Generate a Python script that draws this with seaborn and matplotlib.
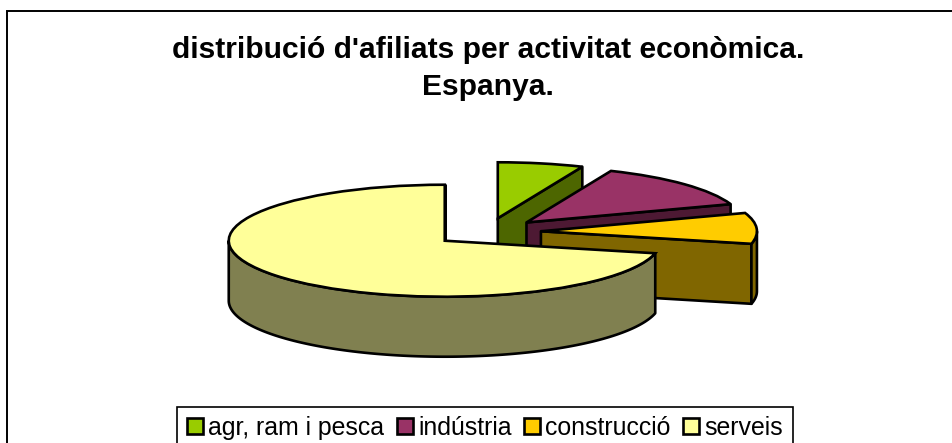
import numpy as np
import matplotlib
matplotlib.use('Agg')
import matplotlib.pyplot as plt
import seaborn as sns

# dades llegides del grafic
categories = ['agr, ram i pesca', 'indústria', 'construcció', 'serveis']
values = [6.4, 13.3, 8.9, 71.4]
top_colors = ['#99CC00', '#993366', '#FFCC00', '#FFFF99']
side_colors = ['#4D6600', '#4D1933', '#806600', '#808050']
title_text = "distribució d'afiliats per activitat econòmica.\nEspanya."

sns.set_theme(style='white')
plt.rcParams['font.family'] = ['Liberation Sans', 'DejaVu Sans']

W, H = 952, 443
cx, cy = 487, 232    # centre del pastis, en pixels
rx, ry = 216, 56     # semieixos
depth = 60 / ry      # alcada de la paret

fig = plt.figure(figsize=(W / 100, H / 100), dpi=100)
ax = fig.add_axes([0, 0, 1, 1])

# pastis pla, despres l'aixafem canviant l'aspecte
wedges, _ = ax.pie(values, colors=sns.color_palette(top_colors), explode=[0.25] * 4,
                   startangle=90, counterclock=False,
                   wedgeprops={'edgecolor': 'black', 'linewidth': 1.9})
ax.set_aspect('auto')
ax.set_xlim(-cx / rx, (W - cx) / rx)
ax.set_ylim((cy - H) / ry, cy / ry)
ax.axis('off')

# parets laterals de cada porcio
for i, w in enumerate(wedges):
    z = 2 + i * 2
    w.set_zorder(z + 1)
    x0, y0 = w.center
    line = {'facecolor': side_colors[i], 'edgecolor': 'black', 'linewidth': 1.9,
            'joinstyle': 'round', 'zorder': z}
    # parets radials visibles
    if np.sin(np.radians(w.theta1 - 90)) < 0:
        px = x0 + np.cos(np.radians(w.theta1))
        py = y0 + np.sin(np.radians(w.theta1))
        ax.fill([x0, px, px, x0], [y0, py, py - depth, y0 - depth], **line)
    if np.sin(np.radians(w.theta2 + 90)) < 0:
        px = x0 + np.cos(np.radians(w.theta2))
        py = y0 + np.sin(np.radians(w.theta2))
        ax.fill([x0, px, px, x0], [y0, py, py - depth, y0 - depth], **line)
    # paret corba, nomes la part de davant
    t = np.radians(np.linspace(w.theta1, w.theta2, 300))
    t = t[np.sin(t) <= 0]
    if len(t) > 1:
        xs = x0 + np.cos(t)
        ys = y0 + np.sin(t)
        ax.fill(np.r_[xs, xs[::-1]], np.r_[ys, ys[::-1] - depth], **line)

# marc exterior
fig.add_artist(plt.Rectangle((6.5 / W, -0.1), 1.1, 1.1 - 11.5 / H,
                             transform=fig.transFigure, fill=False,
                             edgecolor='black', linewidth=1.4))

fig.text(488 / W, 1 - 68.5 / H, title_text, ha='center', va='center', fontsize=21.6,
         fontweight='bold', color='black', linespacing=1.42)

leg = fig.legend(wedges, categories, ncol=4, loc='center', bbox_to_anchor=(485 / W, 1 - 428 / H),
                 fontsize=17.9, frameon=True, fancybox=False, edgecolor='black', framealpha=1,
                 labelcolor='black', handlelength=0.64, handleheight=0.64, handletextpad=0.22,
                 columnspacing=0.5, borderpad=0.38, borderaxespad=0)
leg.get_frame().set_linewidth(1.2)

fig.savefig('out.png', dpi=100)
